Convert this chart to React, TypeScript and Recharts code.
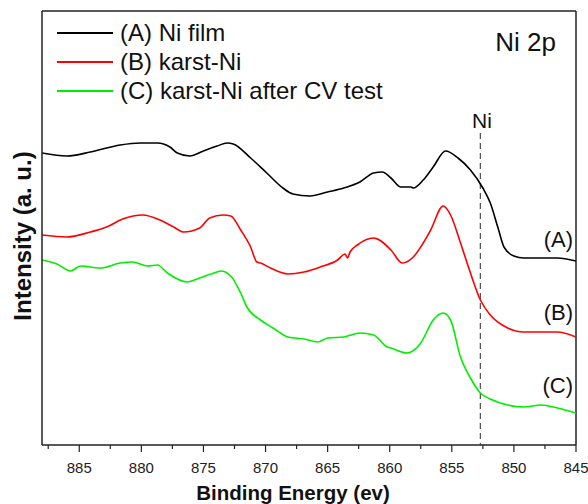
import React from 'react';
import { LineChart, Line, XAxis, YAxis, ReferenceLine } from 'recharts';

const FONT = "Arial, 'Liberation Sans', sans-serif";

// binding energy (eV) and intensity (a.u., offset stacked)
const energyA = [888.0, 886.0, 884.1, 881.7, 880.1, 878.7, 877.7, 877.1, 876.1, 875.0, 873.9, 873.1, 872.6, 871.2, 869.9, 868.6, 867.8, 866.4, 865.0, 863.7, 862.4, 861.3, 860.6, 859.9, 859.1, 858.3, 858.1, 857.3, 856.5, 855.5, 854.5, 853.5, 852.5, 851.9, 851.3, 850.8, 850.0, 849.2, 847.8, 846.5, 845.0];
const intensityA = [292, 289, 293, 300, 302, 302, 298, 292, 289, 294, 299, 302, 301, 287, 272, 257, 251, 249, 253, 257, 263, 272, 273, 267, 258, 258, 257, 265, 278, 294, 287, 275, 257, 242, 218, 198, 189, 187, 187, 187, 184];

const energyB = [888.0, 886.0, 884.1, 882.8, 881.5, 879.9, 878.5, 877.4, 876.6, 875.3, 874.5, 873.4, 872.8, 872.0, 871.2, 870.7, 870.4, 869.6, 868.2, 866.9, 865.6, 864.2, 863.6, 863.4, 863.2, 862.6, 861.3, 859.9, 859.0, 858.1, 857.3, 856.7, 855.7, 855.1, 854.3, 853.5, 852.7, 851.9, 850.5, 849.2, 846.5, 845.0];
const intensityB = [210, 208, 213, 218, 226, 230, 225, 218, 213, 217, 227, 230, 229, 215, 198, 183, 182, 177, 171, 173, 178, 185, 191, 187, 193, 200, 207, 195, 182, 188, 202, 215, 239, 230, 202, 172, 145, 130, 117, 113, 113, 108];

const energyC = [888.0, 886.8, 885.7, 884.9, 883.3, 881.7, 880.7, 879.5, 878.7, 877.9, 876.3, 875.3, 873.9, 873.6, 872.8, 872.0, 871.5, 870.4, 869.4, 868.2, 866.9, 865.8, 865.0, 863.7, 862.4, 861.3, 860.2, 859.9, 858.6, 857.5, 856.5, 855.7, 855.1, 854.3, 853.5, 852.7, 851.9, 850.5, 849.2, 847.8, 846.5, 845.0];
const intensityC = [185, 181, 174, 179, 177, 182, 183, 179, 180, 172, 163, 167, 173, 174, 169, 152, 138, 125, 117, 108, 106, 103, 107, 108, 112, 110, 98, 97, 92, 102, 125, 132, 125, 88, 67, 52, 46, 40, 38, 40, 37, 32];

const majorTicks = [885, 880, 875, 870, 865, 860, 855, 850, 845];
const minorTicks = [887.5, 882.5, 877.5, 872.5, 867.5, 862.5, 857.5, 852.5, 847.5];
const legendNames = ['(A) Ni film', '(B) karst-Ni', '(C) karst-Ni after CV test'];
const curveTags = ['(A)', '(B)', '(C)'];
const colors = ['#000000', '#ff0000', '#00ee00'];
const niEnergy = 852.7;

const zip = (e: number[], v: number[]) => e.map((x, i) => ({ e: x, v: v[i] }));
const seriesA = zip(energyA, intensityA);
const seriesB = zip(energyB, intensityB);
const seriesC = zip(energyC, intensityC);

const renderTick = (props: any) => {
  const { x, y, payload } = props;
  const major = majorTicks.includes(payload.value);
  return (
    <g>
      <line x1={x} x2={x} y1={y} y2={y + (major ? 7 : 4)} stroke="#222" strokeWidth={1.2} />
      {major && (
        <text x={x} y={y + 28} textAnchor="middle" fontSize={15} fontFamily={FONT} fill="#222">
          {payload.value}
        </text>
      )}
    </g>
  );
};

export default function App() {
  return (
    <div style={{ position: 'absolute', left: 0, top: 0, background: '#fff' }}>
      <LineChart width={588} height={504} margin={{ top: 11, right: 12, left: 0, bottom: 0 }}>
        <XAxis
          dataKey="e"
          type="number"
          domain={[845, 888]}
          reversed
          allowDataOverflow
          ticks={[...majorTicks, ...minorTicks].sort((a, b) => b - a)}
          interval={0}
          tick={renderTick}
          tickLine={false}
          tickSize={0}
          tickMargin={0}
          height={59}
          axisLine={{ stroke: '#222', strokeWidth: 1.5 }}
        />
        <YAxis
          type="number"
          domain={[0, 434]}
          allowDataOverflow
          width={42}
          tick={false}
          tickLine={false}
          axisLine={{ stroke: '#222', strokeWidth: 1.5 }}
        />
        <ReferenceLine y={434} stroke="#222" strokeWidth={1.5} />
        <ReferenceLine x={845} stroke="#222" strokeWidth={1.5} />
        <ReferenceLine
          segment={[{ x: niEnergy, y: 312 }, { x: niEnergy, y: 0 }]}
          stroke="#555"
          strokeWidth={1.3}
          strokeDasharray="6 4"
        />
        <Line data={seriesA} dataKey="v" type="monotone" stroke={colors[0]} strokeWidth={1.6} dot={false} isAnimationActive={false} />
        <Line data={seriesB} dataKey="v" type="monotone" stroke={colors[1]} strokeWidth={1.6} dot={false} isAnimationActive={false} />
        <Line data={seriesC} dataKey="v" type="monotone" stroke={colors[2]} strokeWidth={1.6} dot={false} isAnimationActive={false} />

        {legendNames.map((name, i) => (
          <g key={name}>
            <line x1={57} x2={113} y1={33 + i * 29} y2={33 + i * 29} stroke={colors[i]} strokeWidth={2} />
            <text x={120} y={41 + i * 29} fontSize={24} fontFamily={FONT} fill="#111">{name}</text>
          </g>
        ))}
        <text x={556} y={51} textAnchor="end" fontSize={26} fontFamily={FONT} fill="#111">Ni 2p</text>
        <text x={482} y={128} textAnchor="middle" fontSize={21} fontFamily={FONT} fill="#111">Ni</text>
        {curveTags.map((t, i) => (
          <text key={t} x={573} y={[247, 320, 393][i]} textAnchor="end" fontSize={22} fontFamily={FONT} fill="#111">{t}</text>
        ))}
        <text x={293} y={500} textAnchor="middle" fontSize={20.5} fontWeight="bold" fontFamily={FONT} fill="#111">
          Binding Energy (ev)
        </text>
        <text
          x={31}
          y={236}
          textAnchor="middle"
          fontSize={24}
          fontWeight="bold"
          fontFamily={FONT}
          fill="#111"
          transform="rotate(-90 31 236)"
        >
          Intensity (a. u.)
        </text>
      </LineChart>
    </div>
  );
}
